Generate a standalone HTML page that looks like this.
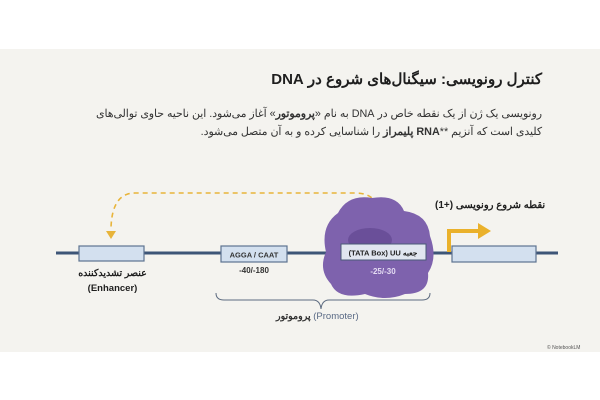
<!DOCTYPE html>
<html><head><meta charset="utf-8"><style>
body{margin:0;width:600px;height:400px;background:#fff;position:relative;overflow:hidden;font-family:"Liberation Sans","Noto Sans CJK SC",sans-serif}
.panel{position:absolute;left:0;top:49px;width:600px;height:303px;background:#f4f3ef}
.t{position:absolute;direction:rtl;color:#1e1e1e;white-space:nowrap}
</style></head><body>
<div class="panel"></div>
<div class="t" style="right:58px;top:70px;font-size:15px;font-weight:bold">کنترل رونویسی: سیگنال‌های شروع در DNA</div>
<div class="t" style="right:58px;top:105px;font-size:10.8px;line-height:18px;color:#333">رونویسی یک ژن از یک نقطه خاص در DNA به نام «<b>پروموتور</b>» آغاز می‌شود. این ناحیه حاوی توالی‌های<br>کلیدی است که آنزیم **<b>RNA پلیمراز</b> را شناسایی کرده و به آن متصل می‌شود.</div>
<svg width="600" height="400" style="position:absolute;left:0;top:0">
<line x1="56" y1="253" x2="558" y2="253" stroke="#3d5577" stroke-width="3"/>
<path d="M378 214 Q378 193 355 193 L135 193 Q112 193 111 228" fill="none" stroke="#e8b43a" stroke-width="1.6" stroke-dasharray="5,4"/>
<path d="M106 231 L116 231 L111 239 Z" fill="#e8b43a"/>
<rect x="79" y="246" width="65" height="15" fill="#d3e0ef" stroke="#5d7390" stroke-width="1.2"/>
<rect x="221" y="246" width="66" height="16" fill="#d3e0ef" stroke="#5d7390" stroke-width="1.2"/>
<text x="254" y="257.5" font-size="7.5" font-weight="bold" text-anchor="middle" fill="#333">AGGA / CAAT</text>
<text x="254" y="273" font-size="8" font-weight="bold" text-anchor="middle" fill="#333">-40/-180</text>
<path d="M338 213 Q348 194 372 198 Q397 194 404 211 Q428 214 430 236 Q438 258 428 273 Q430 294 405 294 Q385 302 365 294 Q338 300 331 284 Q318 270 326 252 Q320 226 338 213 Z" fill="#7e62ad"/>
<ellipse cx="370" cy="240" rx="22" ry="12" fill="#6a4f99"/>
<rect x="341" y="244" width="85" height="16" fill="#e1e6f0" stroke="#4a5a78" stroke-width="1"/>
<text x="383" y="255.5" font-size="7.5" font-weight="bold" text-anchor="middle" fill="#222" direction="rtl">جعبه TATA Box) UU)</text>
<text x="383" y="274" font-size="8" font-weight="bold" text-anchor="middle" fill="#e4dcf3">-25/-30</text>
<rect x="452" y="246" width="84" height="16" fill="#d3e0ef" stroke="#5d7390" stroke-width="1.2"/>
<path d="M449 252 L449 231 L480 231" fill="none" stroke="#eab12b" stroke-width="4"/>
<path d="M478 223 L491 231 L478 239 Z" fill="#eab12b"/>
<path d="M216 293 Q216 300 224 300 L313 300 Q320 300 321 309 Q322 300 329 300 L422 300 Q430 300 430 293" fill="none" stroke="#5d6b80" stroke-width="1"/>
<text x="547" y="349" font-size="5" fill="#555">© NotebookLM</text>
</svg>
<div class="t" style="left:435px;top:200px;font-size:10px;font-weight:bold">نقطه شروع رونویسی (+1)</div>
<div class="t" style="left:75px;top:266px;font-size:9.5px;font-weight:bold;text-align:center;width:75px;line-height:15px">عنصر تشدیدکننده<br>(Enhancer)</div>
<div class="t" style="left:276px;top:311px;font-size:9.5px;color:#5a6a85">(Promoter) <span style="color:#333;font-weight:bold">پروموتور</span></div>
</body></html>
